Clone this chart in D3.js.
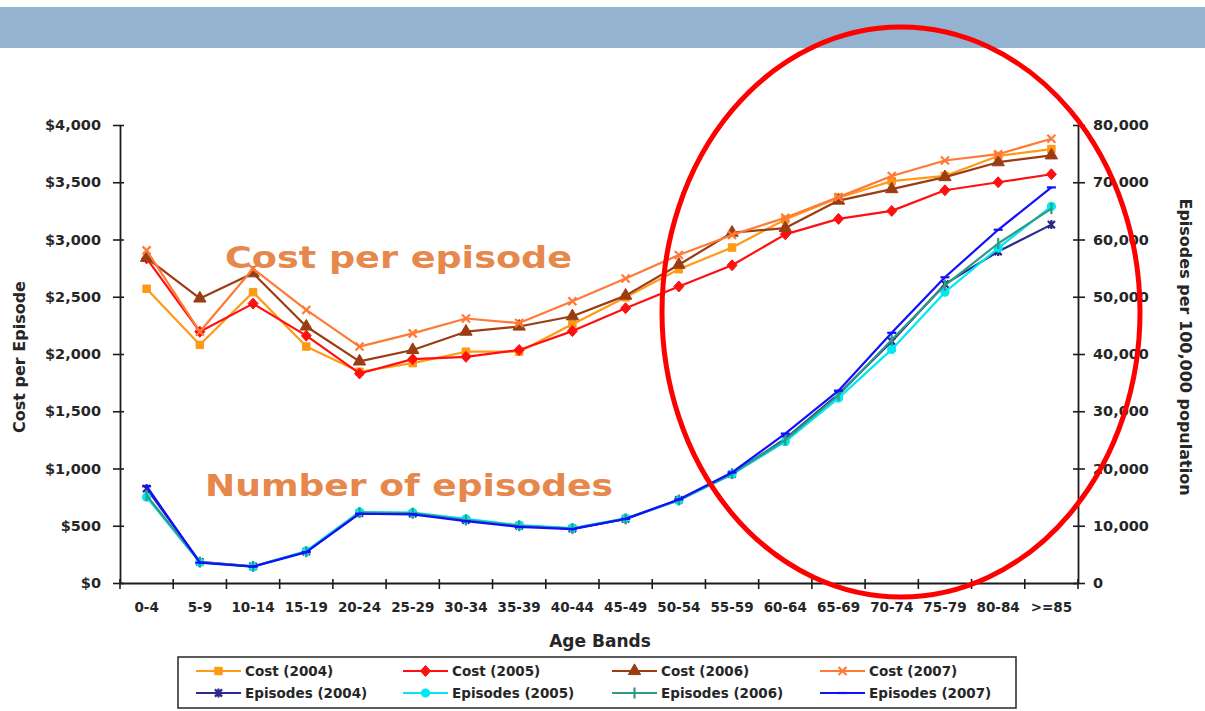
<!DOCTYPE html>
<html><head><meta charset="utf-8">
<script src="https://cdn.jsdelivr.net/npm/d3@7"></script>
<style>
body{margin:0;background:#fff;}
svg{display:block;}
text{font-family:"DejaVu Sans",sans-serif;font-weight:bold;}
</style>
</head><body>
<svg id="c" width="1205" height="711"></svg>
<script>
// ---------- data ----------
const ageBands = ["0-4","5-9","10-14","15-19","20-24","25-29","30-34","35-39","40-44","45-49","50-54","55-59","60-64","65-69","70-74","75-79","80-84",">=85"];
const costTicks = [0,500,1000,1500,2000,2500,3000,3500,4000];
const episodeTicks = [0,10000,20000,30000,40000,50000,60000,70000,80000];

const cost2004 = [2570,2080,2540,2065,1845,1920,2020,2020,2260,2495,2740,2930,3175,3365,3510,3555,3730,3790];
const cost2005 = [2835,2195,2440,2160,1830,1955,1975,2035,2200,2400,2590,2775,3045,3180,3250,3430,3500,3570];
const cost2006 = [2840,2485,2705,2240,1935,2035,2195,2240,2330,2510,2780,3060,3100,3340,3440,3545,3675,3735];
const cost2007 = [2905,2195,2745,2385,2065,2180,2310,2270,2460,2660,2865,3040,3190,3370,3555,3690,3745,3880];

const episodes2004 = [16500,3700,2900,5500,12200,12100,11000,10000,9500,11200,14500,19000,25200,33000,42200,52200,57900,62600];
const episodes2005 = [15000,3600,2850,5600,12400,12300,11200,10100,9600,11300,14400,19000,24700,32300,40800,50800,58500,65800];
const episodes2006 = [15300,3650,2900,5450,12300,12200,11000,10000,9500,11200,14500,19100,25000,32800,42500,52000,59300,65400];
const episodes2007 = [16900,3550,2850,5400,12100,12000,10800,9800,9400,11200,14600,19300,26100,33600,43700,53400,61700,69100];

const seriesNames = ["Cost (2004)","Cost (2005)","Cost (2006)","Cost (2007)","Episodes (2004)","Episodes (2005)","Episodes (2006)","Episodes (2007)"];
const annotations = ["Cost per episode","Number of episodes"];

// ---------- setup ----------
const svg = d3.select("#c");
svg.append("rect").attr("x",0).attr("y",7).attr("width",1205).attr("height",41).attr("fill","#93b3d0");

const x = d3.scaleBand().domain(ageBands).range([120,1078]);
const cx = b => x(b) + x.bandwidth()/2;
const yL = d3.scaleLinear().domain([0,4000]).range([583,125]);
const yR = d3.scaleLinear().domain([0,80000]).range([583,125]);

const axisColor = "#1c1c1c", textColor = "#262626";

// left axis
const gL = svg.append("g").attr("transform","translate(120,0)")
  .call(d3.axisLeft(yL).tickValues(costTicks).tickFormat(d => "$" + d3.format(",")(d)).tickSizeInner(7).tickSizeOuter(0).tickPadding(12));
gL.selectAll(".tick line").attr("x1",4).attr("x2",-7);
// right axis
const gR = svg.append("g").attr("transform","translate(1078,0)")
  .call(d3.axisRight(yR).tickValues(episodeTicks).tickFormat(d3.format(",")).tickSizeInner(7).tickSizeOuter(0).tickPadding(8));
gR.selectAll(".tick line").attr("x1",-5).attr("x2",7);
// bottom axis
const gB = svg.append("g").attr("transform","translate(0,583)")
  .call(d3.axisBottom(x).tickSize(0).tickPadding(24).tickSizeOuter(0));
gB.selectAll(".tick text").attr("dy","0.35em").attr("font-size",13.5);
const bounds = ageBands.map(b => x(b)).concat([x.range()[1]]);
gB.selectAll("line.bnd").data(bounds).join("line").attr("class","bnd")
  .attr("x1",d=>d).attr("x2",d=>d).attr("y1",-4).attr("y2",6);

[gL,gR,gB].forEach(g => {
  g.selectAll("path.domain").attr("stroke",axisColor).attr("stroke-width",1.8);
  g.selectAll("line").attr("stroke",axisColor).attr("stroke-width",1.6);
  g.selectAll("text").attr("fill",textColor).attr("font-family","DejaVu Sans").attr("font-weight","bold");
});
gL.selectAll(".tick text").attr("font-size",14.5);
gR.selectAll(".tick text").attr("font-size",14.5);

// axis titles
svg.append("text").attr("transform","translate(25,357) rotate(-90)").attr("text-anchor","middle")
  .attr("font-size",16).attr("fill",textColor).text("Cost per Episode");
svg.append("text").attr("transform","translate(1180,347) rotate(90)").attr("text-anchor","middle")
  .attr("font-size",16).attr("fill",textColor).text("Episodes per 100,000 population");
svg.append("text").attr("x",600).attr("y",647).attr("text-anchor","middle")
  .attr("font-size",17).attr("fill",textColor).text("Age Bands");

// ---------- series ----------
function crossPath(s){return `M${-s},${-s}L${s},${s}M${-s},${s}L${s},${-s}`;}
const markers = {
  square: {d: d3.symbol(d3.symbolSquare,56)(), fill:true},
  diamond: {d: "M0,-5.5L5,0L0,5.5L-5,0Z", fill:true},
  triangle: {d: d3.symbol(d3.symbolTriangle,66)(), fill:true},
  cross: {d: crossPath(4), fill:false},
  star: {d: crossPath(3.6) + "M0,-4.5L0,4.5", fill:false},
  circle: {d: d3.symbol(d3.symbolCircle,52)(), fill:true},
  vbar: {d: "M0,-5.5L0,5.5", fill:false},
  dash: {d: "M-4.5,0L4.5,0", fill:false}
};

const series = [
  {name:seriesNames[0], values:cost2004, y:yL, color:"#ff9a14", marker:"square"},
  {name:seriesNames[1], values:cost2005, y:yL, color:"#ff1010", marker:"diamond"},
  {name:seriesNames[2], values:cost2006, y:yL, color:"#9a3d12", marker:"triangle"},
  {name:seriesNames[3], values:cost2007, y:yL, color:"#ff7a36", marker:"cross"},
  {name:seriesNames[4], values:episodes2004, y:yR, color:"#2a2a8c", marker:"star"},
  {name:seriesNames[5], values:episodes2005, y:yR, color:"#00e8f0", marker:"circle"},
  {name:seriesNames[6], values:episodes2006, y:yR, color:"#2f9a88", marker:"vbar"},
  {name:seriesNames[7], values:episodes2007, y:yR, color:"#1010ff", marker:"dash"}
];

function drawMarker(g, m, color){
  const mk = markers[m];
  g.append("path").attr("d", mk.d)
    .attr("fill", mk.fill ? color : "none")
    .attr("stroke", color).attr("stroke-width", mk.fill ? 1 : 2.2);
}

series.forEach(s => {
  const line = d3.line().x((d,i) => cx(ageBands[i])).y(d => s.y(d));
  svg.append("path").datum(s.values).attr("d", line)
    .attr("fill","none").attr("stroke", s.color).attr("stroke-width",2.2).attr("stroke-linejoin","round");
  s.values.forEach((v,i) => {
    const g = svg.append("g").attr("transform",`translate(${cx(ageBands[i])},${s.y(v)})`);
    drawMarker(g, s.marker, s.color);
  });
});

// annotations
svg.append("text").attr("x",225).attr("y",268).attr("font-size",31).attr("fill","#e6874b")
  .attr("textLength",347).attr("lengthAdjust","spacingAndGlyphs").text(annotations[0]);
svg.append("text").attr("x",205).attr("y",496).attr("font-size",31).attr("fill","#e6874b")
  .attr("textLength",408).attr("lengthAdjust","spacingAndGlyphs").text(annotations[1]);

// ellipse highlight
svg.append("ellipse").attr("cx",901).attr("cy",312).attr("rx",239).attr("ry",285)
  .attr("fill","none").attr("stroke","#ff0000").attr("stroke-width",5);

// ---------- legend ----------
const lg = svg.append("g");
lg.append("rect").attr("x",178).attr("y",657).attr("width",838).attr("height",51)
  .attr("fill","#fff").attr("stroke","#333").attr("stroke-width",1.6);
const colX = [196,403,612,820], rowY = [671,693];
series.forEach((s,i) => {
  const c = i % 4, r = Math.floor(i/4);
  const x0 = colX[c], y0 = rowY[r];
  lg.append("line").attr("x1",x0).attr("x2",x0+45).attr("y1",y0).attr("y2",y0)
    .attr("stroke",s.color).attr("stroke-width",2.2);
  const g = lg.append("g").attr("transform",`translate(${x0+22.5},${y0})`);
  drawMarker(g, s.marker, s.color);
  lg.append("text").attr("x",x0+49).attr("y",y0).attr("dy","0.36em")
    .attr("font-size",13.5).attr("fill",textColor).text(s.name);
});
</script>
</body></html>
